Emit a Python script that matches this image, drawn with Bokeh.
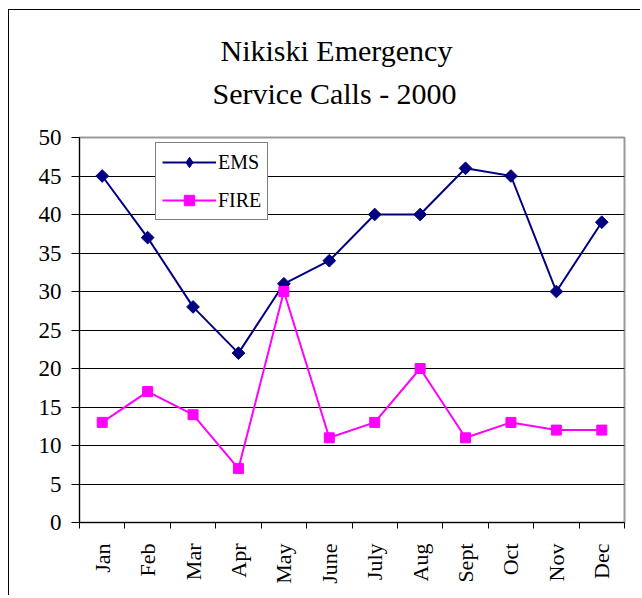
import numpy as np
from bokeh.plotting import figure
from bokeh.models import (Range1d, FixedTicker, Legend, LegendItem, Title,
                          ColumnDataSource)
from bokeh.embed import file_html
from bokeh.resources import INLINE

# ---- data ----
months = ["Jan", "Feb", "Mar", "Apr", "May", "June", "July", "Aug",
          "Sept", "Oct", "Nov", "Dec"]
ems = [45, 37, 28, 22, 31, 34, 40, 40, 46, 45, 30, 39]
fire = [13, 17, 14, 7, 30, 11, 13, 20, 11, 13, 12, 12]
y_ticks = [0, 5, 10, 15, 20, 25, 30, 35, 40, 45, 50]
grid_ticks = [5, 10, 15, 20, 25, 30, 35, 40, 45]
title_lines = ["Nikiski Emergency", "Service Calls - 2000"]
series_names = ["EMS", "FIRE"]

FONT = "Liberation Serif"
NAVY = "#000080"
MAGENTA = "#FF00FF"

pos = list(range(1, len(months) + 1))
src = ColumnDataSource(dict(pos=pos, month=months, ems=ems, fire=fire))

p = figure(width=632, height=586, output_backend="svg", toolbar_location=None,
           x_range=Range1d(0.5, len(months) + 0.5), y_range=Range1d(0, 50),
           min_border_left=70, min_border_right=17, min_border_top=127,
           min_border_bottom=74)
p.margin = (9, 0, 0, 8)
p.styles = {"border-left": "1px solid black", "border-top": "1px solid black"}
p.title.visible = False
p.background_fill_color = "white"
p.border_fill_color = "white"
p.outline_line_color = "#999999"
p.outline_line_width = 2

# lines and markers
r1 = p.line("pos", "ems", source=src, line_color=NAVY, line_width=2)
s1 = p.scatter("pos", "ems", source=src, marker="square", angle=np.pi / 4,
               size=9, fill_color=NAVY, line_color=NAVY)
r2 = p.line("pos", "fire", source=src, line_color=MAGENTA, line_width=2)
s2 = p.scatter("pos", "fire", source=src, marker="square", size=10,
               fill_color=MAGENTA, line_color=MAGENTA)
# hidden diamond renderer used only for the legend symbol
leg_ems = p.scatter("pos", "ems", source=src, marker="diamond", size=15,
                    fill_color=NAVY, line_color=NAVY, visible=False)

# grid
p.xgrid.visible = False
p.ygrid.ticker = FixedTicker(ticks=grid_ticks)
p.ygrid.grid_line_color = "black"
p.ygrid.grid_line_width = 1

# y axis
p.yaxis.ticker = FixedTicker(ticks=y_ticks)
p.yaxis.axis_line_color = "black"
p.yaxis.major_tick_out = 8
p.yaxis.major_tick_in = 0
p.yaxis.minor_tick_line_color = None
p.yaxis.major_label_standoff = 10
p.yaxis.major_label_text_font = FONT
p.yaxis.major_label_text_font_size = "23px"
p.yaxis.major_label_text_color = "black"

# x axis: labels at category centres, ticks at category boundaries
p.xaxis.ticker = FixedTicker(ticks=pos,
                             minor_ticks=[i + 0.5 for i in range(len(months) + 1)])
p.xaxis.major_label_overrides = {k: m for k, m in zip(pos, months)}
p.xaxis.major_tick_line_color = None
p.xaxis.major_tick_out = 0
p.xaxis.major_tick_in = 0
p.xaxis.minor_tick_out = 6
p.xaxis.minor_tick_in = 0
p.xaxis.minor_tick_line_color = "black"
p.xaxis.axis_line_color = "black"
p.xaxis.major_label_orientation = np.pi / 2
p.xaxis.major_label_standoff = 15
p.xaxis.major_label_text_font = FONT
p.xaxis.major_label_text_font_size = "22px"
p.xaxis.major_label_text_color = "black"

# title (two lines) with a small spacer next to the plot area
spacer = Title(text=" ", text_font_size="1px", standoff=21)
t2 = Title(text=title_lines[1], align="left", offset=133, standoff=8,
           text_font=FONT, text_font_size="30px", text_font_style="normal",
           text_color="black")
t1 = Title(text=title_lines[0], align="left", offset=141, standoff=8,
           text_font=FONT, text_font_size="30px", text_font_style="normal",
           text_color="black")
p.add_layout(spacer, "above")
p.add_layout(t2, "above")
p.add_layout(t1, "above")

legend = Legend(items=[LegendItem(label=series_names[0], renderers=[r1, leg_ems]),
                       LegendItem(label=series_names[1], renderers=[r2, s2])],
                location=(76, 302), margin=0, padding=6, spacing=12,
                glyph_width=54, glyph_height=26, label_height=26,
                label_standoff=2, label_text_font=FONT,
                label_text_font_size="20px", label_text_color="black",
                border_line_color="black", border_line_width=1,
                background_fill_color="white", background_fill_alpha=1)
p.add_layout(legend)

open("out.html", "w").write(file_html(p, INLINE))
